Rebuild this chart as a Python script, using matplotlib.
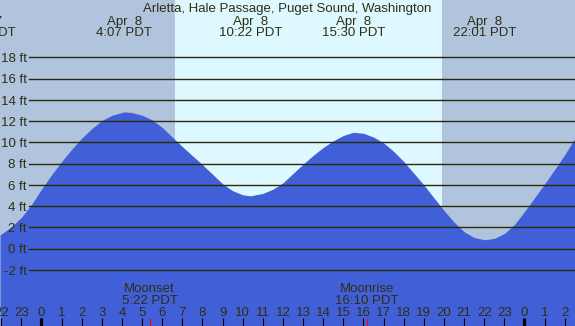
import matplotlib
matplotlib.use("Agg")
import matplotlib.pyplot as plt
from matplotlib import transforms

plt.rcParams['font.family'] = ['Liberation Sans', 'DejaVu Sans']

# ---------------- data ----------------
title = "Arletta, Hale Passage, Puget Sound, Washington"

hours = [-2.06, -1.5, -1, -0.5, 0, 0.5, 1, 1.5, 2, 2.5, 3, 3.5, 4.12, 4.5, 5, 5.5,
         6, 6.5, 7, 7.5, 8, 8.5, 9, 9.5, 10, 10.37, 11, 11.5, 12, 12.5, 13, 13.5,
         14, 14.5, 15, 15.5, 16, 16.5, 17, 17.5, 18, 18.5, 19, 19.5, 20, 20.5,
         21, 21.5, 22.02, 22.5, 23, 23.5, 24, 24.5, 25, 25.5, 26, 26.51]
heights = [1.3, 2.05, 2.95, 4.15, 5.6, 6.95, 8.2, 9.35, 10.4, 11.3, 12.05, 12.55, 12.87, 12.8, 12.55, 12.12,
           11.4, 10.5, 9.6, 8.75, 7.9, 7.0, 6.1, 5.45, 5.07, 4.97, 5.2, 5.6, 6.2, 7.08, 7.95, 8.78,
           9.52, 10.15, 10.65, 10.95, 10.85, 10.5, 9.95, 9.15, 8.2, 7.1, 6.0, 4.78, 3.6, 2.5,
           1.6, 1.05, 0.84, 0.97, 1.43, 2.27, 3.5, 4.78, 6.1, 7.45, 8.85, 10.4]

extreme_times = [-2.82, 4.12, 10.37, 15.5, 22.02]
extreme_dates = ["Apr  7", "Apr  8", "Apr  8", "Apr  8", "Apr  8"]
extreme_labels = ["21:11 PDT", "4:07 PDT", "10:22 PDT", "15:30 PDT", "22:01 PDT"]

sunrise = 6.61
sunset = 19.88

moon_times = [5.367, 16.167]
moon_names = ["Moonset", "Moonrise"]
moon_labels = ["5:22 PDT", "16:10 PDT"]

level_values = [-2, 0, 2, 4, 6, 8, 10, 12, 14, 16, 18]
level_labels = ["-2 ft", "0 ft", "2 ft", "4 ft", "6 ft", "8 ft", "10 ft", "12 ft",
                "14 ft", "16 ft", "18 ft"]

tick_hours = list(range(-2, 27))
hour_labels = ["22", "23", "0", "1", "2", "3", "4", "5", "6", "7", "8", "9", "10", "11",
               "12", "13", "14", "15", "16", "17", "18", "19", "20", "21", "22", "23",
               "0", "1", "2"]

# ---------------- style ----------------
W, H = 575, 326
night_c = "#b0c4de"
day_c = "#ddf8ff"
water_c = "#4160d8"
grid_c = "#2a2a05"
text_c = "#2e2e14"
fs = 9.5

fig = plt.figure(figsize=(W / 100, H / 100), dpi=100)
ax = fig.add_axes([0, 0, 1, 1])
x0, x1 = -2.062, 26.51
ax.set_xlim(x0, x1)
ax.set_ylim(-7.27, 23.39)
for s in ax.spines.values():
    s.set_visible(False)

ax.axvspan(x0, sunrise, color=night_c, lw=0, zorder=0)
ax.axvspan(sunrise, sunset, color=day_c, lw=0, zorder=0)
ax.axvspan(sunset, x1, color=night_c, lw=0, zorder=0)

ax.fill_between(hours, heights, -10, color=water_c, lw=0, zorder=1)

for v in level_values:
    ax.axhline(v, xmin=29.3 / W, xmax=1, color=grid_c, lw=1.0, zorder=2)

ylab_tr = transforms.offset_copy(
    transforms.blended_transform_factory(fig.transFigure, ax.transData),
    fig=fig, y=-4.8, units='dots')
for v, lab in zip(level_values, level_labels):
    ax.text(27.0 / W, v, lab, transform=ylab_tr, ha='right', va='baseline',
            fontsize=fs, color=text_c, zorder=3)

top_tr = transforms.blended_transform_factory(ax.transData, fig.transFigure)
fig.text(0.5, 1 - 11.7 / H, title, ha='center', va='baseline', fontsize=fs, color=text_c)
for t, d, lab in zip(extreme_times, extreme_dates, extreme_labels):
    ax.text(t, 1 - 25.0 / H, d, transform=top_tr, ha='center', va='baseline',
            fontsize=fs, color=text_c)
    ax.text(t, 1 - 36.0 / H, lab, transform=top_tr, ha='center', va='baseline',
            fontsize=fs, color=text_c)

for t, n, lab in zip(moon_times, moon_names, moon_labels):
    ax.text(t, 1 - 291.7 / H, n, transform=top_tr, ha='center', va='baseline',
            fontsize=fs, color=text_c)
    ax.text(t, 1 - 304.3 / H, lab, transform=top_tr, ha='center', va='baseline',
            fontsize=fs, color=text_c)

ax.set_yticks([])
ax.set_xticks(tick_hours, labels=hour_labels)
ax.set_xticks(moon_times, minor=True)
ax.tick_params(axis='x', which='major', direction='in', length=5.6, width=0.8,
               color='black', labelcolor=text_c, labelsize=fs, pad=-13.6)
ax.tick_params(axis='x', which='minor', direction='in', length=5.6, width=0.8,
               color='red')
for tk, lab in zip(ax.xaxis.get_major_ticks(), hour_labels):
    if lab == "0":
        tk.tick1line.set_markeredgewidth(2.3)

fig.savefig("out.png", dpi=100)
